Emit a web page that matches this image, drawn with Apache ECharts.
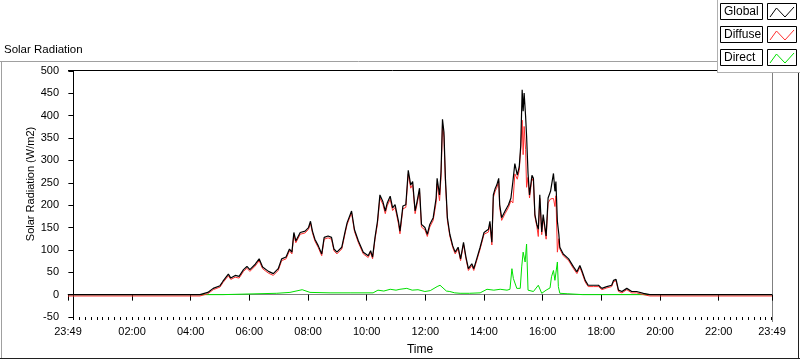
<!DOCTYPE html>
<html><head><meta charset="utf-8">
<script src="https://cdn.jsdelivr.net/npm/echarts@6/dist/echarts.min.js"></script>
<style>html,body{margin:0;padding:0;background:#fff}#c{width:800px;height:361px}</style>
</head><body><div id="c"></div>
<script>
// time in minutes after midnight (-11 = 23:49 of the previous day, 1429 = 23:49)
const globalTime = [-11,259,275,286,300,306,317,322,331,339,
348,355,361,372,380,387,399,409,419,426,
435,442,447,451,455,464,474,481,485,489,
494,501,508,513,521,528,533,539,549,556,
560,569,575,583,593,603,608,612,617,622,
627,633,638,642,648,653,658,665,668,674,
680,685,690,694,699,703,708,712,719,724,
729,736,742,744,749,752,755,758,761,765,
770,776,781,787,792,798,803,808,815,819,
825,832,840,849,852,856,859,863,866,870,
872,876,883,890,895,899,903,908,912,915,
918,920,922,925,927,930,933,935,938,941,
944,948,951,954,958,961,967,971,976,982,
985,987,990,993,995,1002,1013,1023,1030,1036,
1040,1047,1053,1064,1074,1081,1091,1101,1105,1110,
1115,1122,1132,1142,1152,1166,1179,1429];
const globalValue = [0,0,5,14,20,30,46,37,43,41,
56,63,56,68,80,62,52,47,58,80,
84,102,95,139,120,139,142,150,164,142,
124,109,91,128,131,128,102,95,106,142,
161,187,145,120,95,87,98,84,128,164,
223,208,187,205,220,194,201,164,142,198,
201,278,245,253,187,208,238,157,150,135,
157,172,216,260,223,275,392,363,260,172,
135,109,95,106,80,117,84,58,69,58,
80,106,139,146,164,117,223,238,245,260,
201,172,187,201,216,253,293,267,286,333,
458,410,451,399,355,271,223,227,267,260,
179,157,146,223,140,179,131,216,231,271,
231,253,164,135,106,91,80,62,51,65,
54,32,21,21,21,14,18,21,32,34,
10,7,14,7,7,3,0,0];
const diffuseValue = [-3,-3,2,11,17,27,42,34,39,37,
52,59,52,64,76,58,48,43,54,76,
80,98,91,135,116,135,138,146,160,138,
120,105,87,124,127,124,98,91,102,138,
157,183,141,116,91,83,94,80,124,158,
216,202,181,199,213,188,195,158,136,192,
195,270,238,246,181,202,232,151,145,130,
151,166,206,248,210,262,380,352,250,166,
131,105,91,102,76,113,80,54,65,54,
76,102,135,140,158,111,217,232,238,254,
195,166,181,195,210,205,270,258,278,325,
390,313,376,324,240,262,216,220,260,253,
175,152,130,215,134,172,124,205,214,215,
197,221,95,125,102,87,76,58,47,61,
50,28,18,18,18,11,15,18,29,31,
7,4,11,4,4,0,-3,-3];
const directTime = [-11,259,306,308,416,418,443,468,484,525,
566,613,623,635,648,660,668,682,693,705,
719,730,744,750,756,763,770,780,791,810,
832,846,860,873,887,893,897,900,907,914,
917,920,924,927,930,941,951,958,967,975,
978,982,985,990,992,995,1010,1042,1179,1429];
const directValue = [0,0,0,3,3,6,5,11,5,4,
4,4,10,8,12,10,12,14,10,11,
7,9,18,21,15,8,7,4,3,3,
4,12,10,12,10,12,58,36,14,14,
62,95,73,113,10,7,21,3,10,15,
40,54,32,73,18,3,2,0,0,0];
const xLabelTimes = [-11,120,240,360,480,600,720,840,960,1080,1200,1320,1429];
const xMinorTimes = [];
for (let m = 0; m <= 1428; m += 12) xMinorTimes.push(m);
const yMin = -50, yMax = 500, yStep = 50;
const seriesNames = ['Global','Diffuse','Direct'];
const seriesColors = ['#000000','#ff3030','#00e000'];

function fmt(m){ m = ((m % 1440) + 1440) % 1440; const h = Math.floor(m/60), mi = m % 60;
  return String(h).padStart(2,'0') + ':' + String(mi).padStart(2,'0'); }
function pairs(t, v){ return t.map((x,i)=>[x, v[i]]); }

const FONT = 'Liberation Sans';
const chart = echarts.init(document.getElementById('c'), null, {renderer:'canvas'});

const graphics = [];
graphics.push({type:'line', shape:{x1:0,y1:61.5,x2:717,y2:61.5}, style:{stroke:'#a0a0a0',lineWidth:1}, silent:true});
graphics.push({type:'line', shape:{x1:1.5,y1:61,x2:1.5,y2:359}, style:{stroke:'#a0a0a0',lineWidth:1}, silent:true});
graphics.push({type:'line', shape:{x1:0,y1:358.5,x2:800,y2:358.5}, style:{stroke:'#202020',lineWidth:1}, silent:true});
graphics.push({type:'line', shape:{x1:798.5,y1:72,x2:798.5,y2:359}, style:{stroke:'#202020',lineWidth:1}, silent:true});
graphics.push({type:'line', shape:{x1:68,y1:70.5,x2:717,y2:70.5}, style:{stroke:'#000',lineWidth:1}, silent:true});
graphics.push({type:'line', shape:{x1:772.5,y1:71,x2:772.5,y2:322}, style:{stroke:'#808080',lineWidth:1}, silent:true});
graphics.push({type:'text', x:4, y:50, style:{text:'Solar Radiation', font:'11.5px "'+FONT+'"', fill:'#000', textVerticalAlign:'middle'}, silent:true});
graphics.push({type:'text', x:31, y:184, rotation:Math.PI/2, style:{text:'Solar Radiation (W/m2)', font:'11px "'+FONT+'"', fill:'#000', textAlign:'center', textVerticalAlign:'middle'}, silent:true});
graphics.push({type:'rect', shape:{x:717,y:0,width:83,height:72}, style:{fill:'#fff',stroke:null}, silent:true, z:50});
graphics.push({type:'line', shape:{x1:717.5,y1:0,x2:717.5,y2:72}, style:{stroke:'#b0b0b0',lineWidth:1}, silent:true, z:51});
graphics.push({type:'line', shape:{x1:717,y1:72.5,x2:800,y2:72.5}, style:{stroke:'#b0b0b0',lineWidth:1}, silent:true, z:51});
seriesNames.forEach((n,i)=>{
  const yy = Math.round(2.5 + i*23.3);
  graphics.push({type:'rect', shape:{x:720.5,y:yy+0.5,width:42,height:16}, style:{fill:'#fff',stroke:'#000',lineWidth:1}, silent:true, z:52});
  graphics.push({type:'text', x:724, y:yy+9, style:{text:n, font:'12px "'+FONT+'"', fill:'#000', textVerticalAlign:'middle'}, silent:true, z:53});
  graphics.push({type:'rect', shape:{x:767.5,y:yy+0.5,width:29,height:16}, style:{fill:'#fff',stroke:'#000',lineWidth:1}, silent:true, z:52});
  graphics.push({type:'polyline', shape:{points:[[770,yy+14],[776.5,yy+5],[785,yy+14],[794,yy+4]]}, style:{stroke:seriesColors[i],lineWidth:1,fill:null}, silent:true, z:53});
});

const seriesData = [pairs(globalTime, globalValue), pairs(globalTime, diffuseValue), pairs(directTime, directValue)];
const order = [2,1,0]; // Direct drawn first, Global on top

chart.setOption({
  animation:false,
  backgroundColor:'#fff',
  grid:{left:68, right:28, top:71, bottom:39},
  xAxis:[{
    type:'value', min:-11, max:1429,
    name:'Time', nameLocation:'middle', nameGap:27,
    nameTextStyle:{fontFamily:FONT, fontSize:12, color:'#000'},
    axisLine:{show:true, lineStyle:{color:'#808080', width:1}},
    axisTick:{show:true, length:6, customValues:xLabelTimes, lineStyle:{color:'#000'}},
    axisLabel:{show:true, customValues:xLabelTimes, formatter:fmt, margin:9, fontFamily:FONT, fontSize:11, color:'#000', showMinLabel:true, showMaxLabel:true, hideOverlap:false},
    splitLine:{show:false}
  },{
    type:'value', min:-11, max:1429, position:'bottom',
    axisLine:{show:false},
    axisTick:{show:true, length:3, customValues:xMinorTimes, lineStyle:{color:'#000'}},
    axisLabel:{show:false},
    splitLine:{show:false}
  }],
  yAxis:{
    type:'value', min:yMin, max:yMax, interval:yStep,
    axisLine:{show:true, lineStyle:{color:'#000', width:1}},
    axisTick:{show:true, length:5, lineStyle:{color:'#000'}},
    axisLabel:{margin:9, fontFamily:FONT, fontSize:11, color:'#000'},
    splitLine:{show:false}
  },
  series: order.map(i=>({
    name:seriesNames[i], type:'line', xAxisIndex:0, yAxisIndex:0,
    data:seriesData[i], showSymbol:false, symbol:'none',
    lineStyle:{color:seriesColors[i], width:i===0?1.2:1}, itemStyle:{color:seriesColors[i]},
    z:2
  })),
  graphic: graphics
});
</script></body></html>
